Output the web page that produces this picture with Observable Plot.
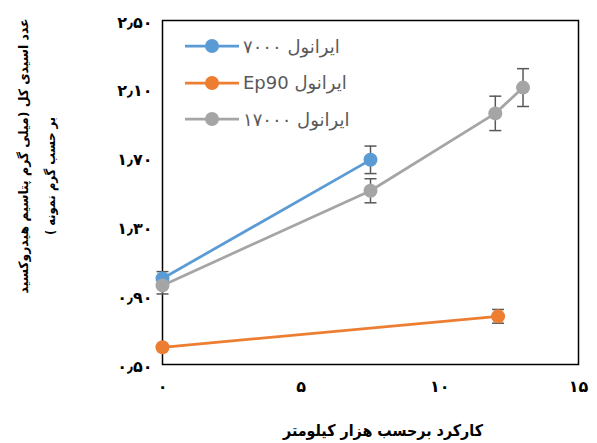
<!DOCTYPE html>
<html><head><meta charset="utf-8">
<script src="https://cdn.jsdelivr.net/npm/d3@7"></script>
<script src="https://cdn.jsdelivr.net/npm/@observablehq/plot@0.6"></script>
<style>
body{margin:0;background:#fff;}
#wrap{position:relative;width:597px;height:443px;font-family:"DejaVu Sans",sans-serif;}
#legend{position:absolute;left:185px;top:28px;}
.row{display:flex;align-items:center;height:36.5px;}
.row span{font-size:18px;color:#595959;margin-left:4px;white-space:nowrap;}
</style></head>
<body>
<div id="wrap"><div id="legend"></div></div>
<script>
const series = ["ایرانول ۷۰۰۰", "ایرانول Ep90", "ایرانول ۱۷۰۰۰"];
const colors = ["#5B9BD5", "#ED7D31", "#A5A5A5"];

const x7000 = [0, 7.5];
const y7000 = [1.0, 1.69];
const e7000 = [0.04, 0.08];

const xEp90 = [0, 12.1];
const yEp90 = [0.6, 0.78];
const eEp90 = [0, 0.04];

const x17000 = [0, 7.5, 12, 13];
const y17000 = [0.96, 1.51, 1.96, 2.11];
const e17000 = [0.05, 0.07, 0.1, 0.11];

const xTicks = [0, 5, 10, 15];
const xTickLabels = ["۰", "۵", "۱۰", "۱۵"];
const yTicks = [0.5, 0.9, 1.3, 1.7, 2.1, 2.5];
const yTickLabels = ["۰٫۵۰", "۰٫۹۰", "۱٫۳۰", "۱٫۷۰", "۲٫۱۰", "۲٫۵۰"];

const xTitle = "کارکرد برحسب هزار کیلومتر";
const yTitle1 = "عدد اسیدی کل (میلی گرم پتاسیم هیدروکسید";
const yTitle2 = "بر حسب گرم نمونه )";

const build = (s, xs, ys, es) => xs.map((x, i) => ({series: s, x, y: ys[i], e: es[i]}));
const data = [
  ...build(series[0], x7000, y7000, e7000),
  ...build(series[1], xEp90, yEp90, eEp90),
  ...build(series[2], x17000, y17000, e17000)
];
const errs = data.filter(d => d.e > 0);
const cap = {draw(ctx) { ctx.moveTo(-6, 0); ctx.lineTo(6, 0); }};

const svg = Plot.plot({
  width: 597, height: 443,
  marginLeft: 162, marginRight: 19, marginTop: 20, marginBottom: 79,
  x: {domain: [0, 15]},
  y: {domain: [0.5, 2.5]},
  color: {domain: series, range: colors},
  style: {fontFamily: "DejaVu Sans", fontSize: "16px", fontWeight: "bold", color: "black", background: "white"},
  marks: [
    Plot.axisX({ticks: xTicks, tickFormat: d => xTickLabels[xTicks.indexOf(d)], tickSize: 0, tickPadding: 16, label: null, fontSize: 16}),
    Plot.axisY({ticks: yTicks, tickFormat: d => yTickLabels[yTicks.indexOf(d)], tickSize: 0, tickPadding: 10, label: null, fontSize: 16, dy: 2}),
    Plot.frame({stroke: "black", strokeWidth: 1.5}),
    Plot.ruleX(errs, {x: "x", y1: d => d.y - d.e, y2: d => d.y + d.e, stroke: "#595959", strokeWidth: 1.5}),
    Plot.dot(errs, {x: "x", y: d => d.y + d.e, symbol: cap, fill: "none", stroke: "#595959", strokeWidth: 1.5}),
    Plot.dot(errs, {x: "x", y: d => d.y - d.e, symbol: cap, fill: "none", stroke: "#595959", strokeWidth: 1.5}),
    Plot.line(data, {x: "x", y: "y", z: "series", stroke: "series", strokeWidth: 2.75}),
    Plot.dot(data, {x: "x", y: "y", fill: "series", r: 7})
  ]
});

const s = d3.select(svg);
s.append("text").attr("x", 383).attr("y", 436).attr("text-anchor", "middle")
  .attr("direction", "rtl").attr("textLength", 200).attr("lengthAdjust", "spacingAndGlyphs")
  .style("font-size", "16px").style("font-weight", "bold").text(xTitle);
s.append("text").attr("transform", "translate(23,156) rotate(-90)").attr("text-anchor", "middle").attr("dy", "0.35em")
  .attr("direction", "rtl").attr("textLength", 275).attr("lengthAdjust", "spacingAndGlyphs")
  .style("font-size", "13px").style("font-weight", "bold").text("\u200F" + yTitle1 + "\u200F");
s.append("text").attr("transform", "translate(50,176) rotate(-90)").attr("text-anchor", "middle").attr("dy", "0.35em")
  .attr("direction", "rtl").attr("textLength", 118).attr("lengthAdjust", "spacingAndGlyphs")
  .style("font-size", "13px").style("font-weight", "bold").text("\u200F" + yTitle2 + "\u200F");

document.getElementById("wrap").prepend(svg);

const legend = d3.select("#legend");
series.forEach((name, i) => {
  const row = legend.append("div").attr("class", "row");
  const sw = row.append("svg").attr("width", 54).attr("height", 16);
  sw.append("line").attr("x1", 0).attr("x2", 54).attr("y1", 8).attr("y2", 8).attr("stroke", colors[i]).attr("stroke-width", 2.75);
  sw.append("circle").attr("cx", 27).attr("cy", 8).attr("r", 7).attr("fill", colors[i]);
  row.append("span").attr("dir", "rtl").text(name);
});
</script>
</body></html>
